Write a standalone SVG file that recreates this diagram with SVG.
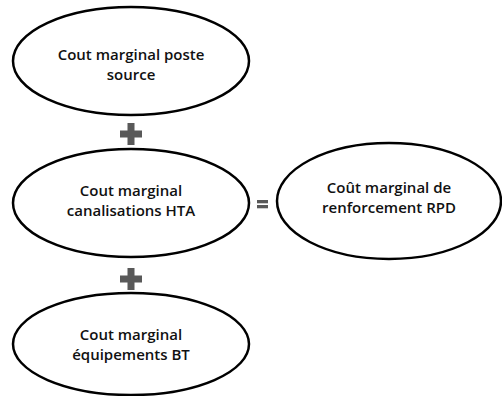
<svg xmlns="http://www.w3.org/2000/svg" width="502" height="396" viewBox="0 0 502 396">
<style>
.n{fill:#fff;stroke:#000;stroke-width:2.5}
.t{font-family:"Open Sans","Liberation Sans",sans-serif;font-weight:600;font-size:15px;fill:#111;text-anchor:middle}
.op{fill:#595959}
</style>
<rect width="502" height="396" fill="#fff"/>
<g id="n1"><ellipse class="n" cx="131" cy="61" rx="118" ry="54"/><text class="t" x="131" y="60">Cout marginal poste</text><text class="t" x="131" y="80">source</text></g>
<g id="n2"><ellipse class="n" cx="131" cy="203" rx="118" ry="54"/><text class="t" x="131" y="196">Cout marginal</text><text class="t" x="131" y="216">canalisations HTA</text></g>
<g id="n3"><ellipse class="n" cx="131" cy="344" rx="118" ry="51"/><text class="t" x="131" y="340">Cout marginal</text><text class="t" x="131" y="360">équipements BT</text></g>
<g id="n4"><ellipse class="n" cx="389" cy="201" rx="112" ry="58"/><text class="t" x="389" y="193">Coût marginal de</text><text class="t" x="389" y="213">renforcement RPD</text></g>
<g id="connectors">
<path class="op" d="M127.5 123h7v7.5h7.5v7h-7.5v7.5h-7v-7.5h-7.5v-7h7.5z"/>
<path class="op" d="M127.5 268h7v7.5h7.5v7h-7.5v7.5h-7v-7.5h-7.5v-7h7.5z"/>
<rect class="op" x="257" y="200" width="11" height="3.3"/>
<rect class="op" x="257" y="205" width="11" height="3.3"/>
</g>
</svg>
